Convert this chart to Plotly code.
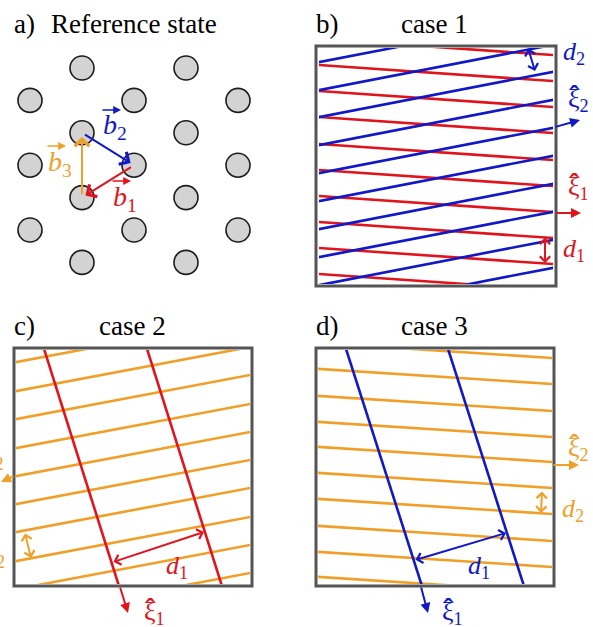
import plotly.graph_objects as go

W, H = 593, 627
FONT = "Liberation Serif, Times New Roman, serif"
RED = "#e0141c"
BLUE = "#1018c8"
ORANGE = "#f0a028"
GRAY = "#555555"

# ---------------- data ----------------
# panel a: triangular lattice, (column index, half-row index)
lattice_cols = [0, 0, 0, 1, 1, 1, 1, 2, 2, 2, 3, 3, 3, 3, 4, 4, 4]
lattice_rows = [1, 3, 5, 0, 2, 4, 6, 1, 3, 5, 0, 2, 4, 6, 1, 3, 5]
# Burgers vectors (start -> end lattice site)
bvec_names = ["1", "2", "3"]
bvec_start = [(2, 3), (1, 2), (1, 4)]
bvec_end = [(1, 4), (2, 3), (1, 2)]

# panel b (case 1): y at left edge (x=320) of each line, and drop over the box width
b_red_left = [39, 65, 91, 117, 144, 170, 196, 222, 248, 274]
b_red_drop = 16
b_blue_left = [62, 90, 117, 145, 173, 201, 229, 257, 285, 313]
b_blue_drop = -45

# panel c (case 2)
c_orange_left = [334, 362, 391, 419, 448, 476, 504, 532, 561, 589, 617]
c_orange_drop = -44
c_red_top = [45, 148]          # x where the line meets y=352
c_red_shift = 73               # x shift from y=352 to y=583

# panel d (case 3)
d_orange_left = [343, 369, 396, 422, 447, 473, 499, 526, 552, 577]
d_orange_drop = 15
d_blue_top = [347, 449]
d_blue_shift = 74

# ---------------- helpers ----------------
def px(x):
    return x / W


def py(y):
    return 1 - y / H


fig = go.Figure()
layout_axes = {}


def add_axes(idx, x0, x1, y0, y1, xr=None, yr=None):
    xa = "xaxis" if idx == 1 else f"xaxis{idx}"
    ya = "yaxis" if idx == 1 else f"yaxis{idx}"
    common = dict(visible=False, showgrid=False, zeroline=False, fixedrange=True)
    layout_axes[xa] = dict(domain=[px(x0), px(x1)], range=xr or [x0, x1],
                           anchor="y" if idx == 1 else f"y{idx}", **common)
    layout_axes[ya] = dict(domain=[py(y1), py(y0)], range=yr or [y1, y0],
                           anchor="x" if idx == 1 else f"x{idx}", **common)


# panel a axis in lattice units: px = 30 + 52*col, py = 68 + 32.4*row
add_axes(1, 0, W, 0, H,
         xr=[(0 - 30) / 52, (W - 30) / 52],
         yr=[(H - 68) / 32.4, (0 - 68) / 32.4])

fig.add_trace(go.Scatter(
    x=lattice_cols, y=lattice_rows, mode="markers", xaxis="x", yaxis="y",
    marker=dict(size=24, color="#d3d3d3", line=dict(color="#1c1c1c", width=1.6)),
    hoverinfo="skip", showlegend=False))

# panel boxes (inner plotting area)
boxes = {
    2: (319, 553, 48, 284),
    3: (16, 250, 350, 584),
    4: (318, 552, 350, 584),
}
for i, (x0, x1, y0, y1) in boxes.items():
    add_axes(i, x0, x1, y0, y1)


def family_h(axis, lefts, drop, xl, xr, color):
    xs, ys = [], []
    ext = 40
    slope = drop / (xr - xl)
    for c in lefts:
        xs += [xl - ext, xr + ext, None]
        ys += [c - slope * ext, c + drop + slope * ext, None]
    fig.add_trace(go.Scatter(x=xs, y=ys, mode="lines", xaxis=f"x{axis}", yaxis=f"y{axis}",
                             line=dict(color=color, width=2.6), hoverinfo="skip",
                             showlegend=False))


def family_v(axis, tops, shift, yt, yb, color):
    xs, ys = [], []
    ext = 40
    slope = shift / (yb - yt)
    for c in tops:
        xs += [c - slope * ext, c + shift + slope * ext, None]
        ys += [yt - ext, yb + ext, None]
    fig.add_trace(go.Scatter(x=xs, y=ys, mode="lines", xaxis=f"x{axis}", yaxis=f"y{axis}",
                             line=dict(color=color, width=2.6), hoverinfo="skip",
                             showlegend=False))


family_h(2, b_red_left, b_red_drop, 320, 552, RED)
family_h(2, b_blue_left, b_blue_drop, 320, 552, BLUE)
family_h(3, c_orange_left, c_orange_drop, 17, 250, ORANGE)
family_v(3, c_red_top, c_red_shift, 352, 583, RED)
family_h(4, d_orange_left, d_orange_drop, 320, 552, ORANGE)
family_v(4, d_blue_top, d_blue_shift, 352, 583, BLUE)

shapes = []
frames = [(316, 556, 46, 286), (14, 252, 348, 586), (316, 554, 348, 586)]
for (x0, x1, y0, y1) in frames:
    shapes.append(dict(type="rect", xref="paper", yref="paper", layer="above",
                       x0=px(x0), x1=px(x1), y0=py(y1), y1=py(y0),
                       line=dict(color=GRAY, width=3), fillcolor="rgba(0,0,0,0)"))

annotations = []


def text(x, y, s, color="black", size=26, xanchor="left"):
    annotations.append(dict(x=px(x), y=py(y), xref="paper", yref="paper", text=s,
                            showarrow=False, xanchor=xanchor, yanchor="middle",
                            font=dict(family=FONT, size=size, color=color)))


def arrow(tx, ty, hx, hy, color, head=2, both=False, width=2, size=1.0):
    annotations.append(dict(x=px(hx), y=py(hy), xref="paper", yref="paper",
                            ax=tx - hx, ay=ty - hy, axref="pixel", ayref="pixel",
                            text="", font=dict(size=1), borderpad=0,
                            showarrow=True, arrowhead=head, startarrowhead=head,
                            arrowside="end+start" if both else "end",
                            arrowwidth=width, arrowsize=size, startarrowsize=size,
                            arrowcolor=color))


def xi(x, y, sub, color, size=26):
    text(x, y, f"ξ<sub>{sub}</sub>", color, size)
    text(x + 1, y - 4, "ˆ", color, size + 6)


def bvec(x, y, sub, color):
    text(x, y, f"<i>b</i><sub>{sub}</sub>", color, 28)
    arrow(x + 1, y - 17, x + 20, y - 17, color, head=2, width=1.3, size=1.2)


# titles
text(12, 24, "a)", size=27)
text(49, 24, "Reference state", size=27)
text(314, 24, "b)", size=27)
text(399, 24, "case 1", size=27)
text(12, 326, "c)", size=27)
text(97, 326, "case 2", size=27)
text(314, 326, "d)", size=27)
text(399, 326, "case 3", size=27)

# panel a: Burgers vectors in lattice coordinates
bcolors = [RED, BLUE, ORANGE]
for (s, e, c) in zip(bvec_start, bvec_end, bcolors):
    annotations.append(dict(x=e[0], y=e[1], ax=s[0], ay=s[1], xref="x", yref="y",
                            axref="x", ayref="y", text="", font=dict(size=1),
                            borderpad=0, showarrow=True,
                            arrowhead=4, arrowsize=1.4, arrowwidth=2, arrowcolor=c,
                            standoff=4, startstandoff=3))
bvec(101, 127, "2", BLUE)
bvec(46, 163, "3", ORANGE)
bvec(111, 198, "1", RED)

# panel b annotations
arrow(528, 48, 535, 71, BLUE, head=4, both=True, width=2)
text(561, 53, "<i>d</i><sub>2</sub>", BLUE)
arrow(555, 127, 580, 120, BLUE, head=2, width=2)
xi(566, 100, "2", BLUE)
arrow(556, 213, 581, 213, RED, head=2, width=2)
xi(566, 188, "1", RED)
arrow(545, 237, 545, 263, RED, head=4, both=True, width=2)
text(561, 250, "<i>d</i><sub>1</sub>", RED)

# panel c annotations
arrow(113, 562, 204, 532, RED, head=4, both=True, width=2)
text(164, 567, "<i>d</i><sub>1</sub>", RED)
arrow(120, 587, 128, 613, RED, head=2, width=2)
xi(142, 613, "1", RED)
arrow(25, 533, 31, 558, ORANGE, head=4, both=True, width=2)
text(7, 556, "<i>d</i><sub>2</sub>", ORANGE, 26, xanchor="right")
arrow(14, 476, -12, 482, ORANGE, head=2, width=2)
xi(-19, 458, "2", ORANGE)

# panel d annotations
arrow(415, 560, 506, 533, BLUE, head=4, both=True, width=2)
text(466, 567, "<i>d</i><sub>1</sub>", BLUE)
arrow(421, 587, 428, 613, BLUE, head=2, width=2)
xi(440, 613, "1", BLUE)
arrow(542, 491, 541, 513, ORANGE, head=4, both=True, width=2)
text(560, 510, "<i>d</i><sub>2</sub>", ORANGE)
arrow(553, 465, 579, 465, ORANGE, head=2, width=2)
xi(566, 449, "2", ORANGE)

fig.update_layout(width=W, height=H, margin=dict(l=0, r=0, t=0, b=0),
                  paper_bgcolor="white", plot_bgcolor="rgba(0,0,0,0)",
                  showlegend=False, shapes=shapes, annotations=annotations,
                  **layout_axes)
fig.write_html("out.html", config={"displayModeBar": False, "staticPlot": True},
               post_script="document.body.style.margin='0';document.body.style.overflow='hidden';")
